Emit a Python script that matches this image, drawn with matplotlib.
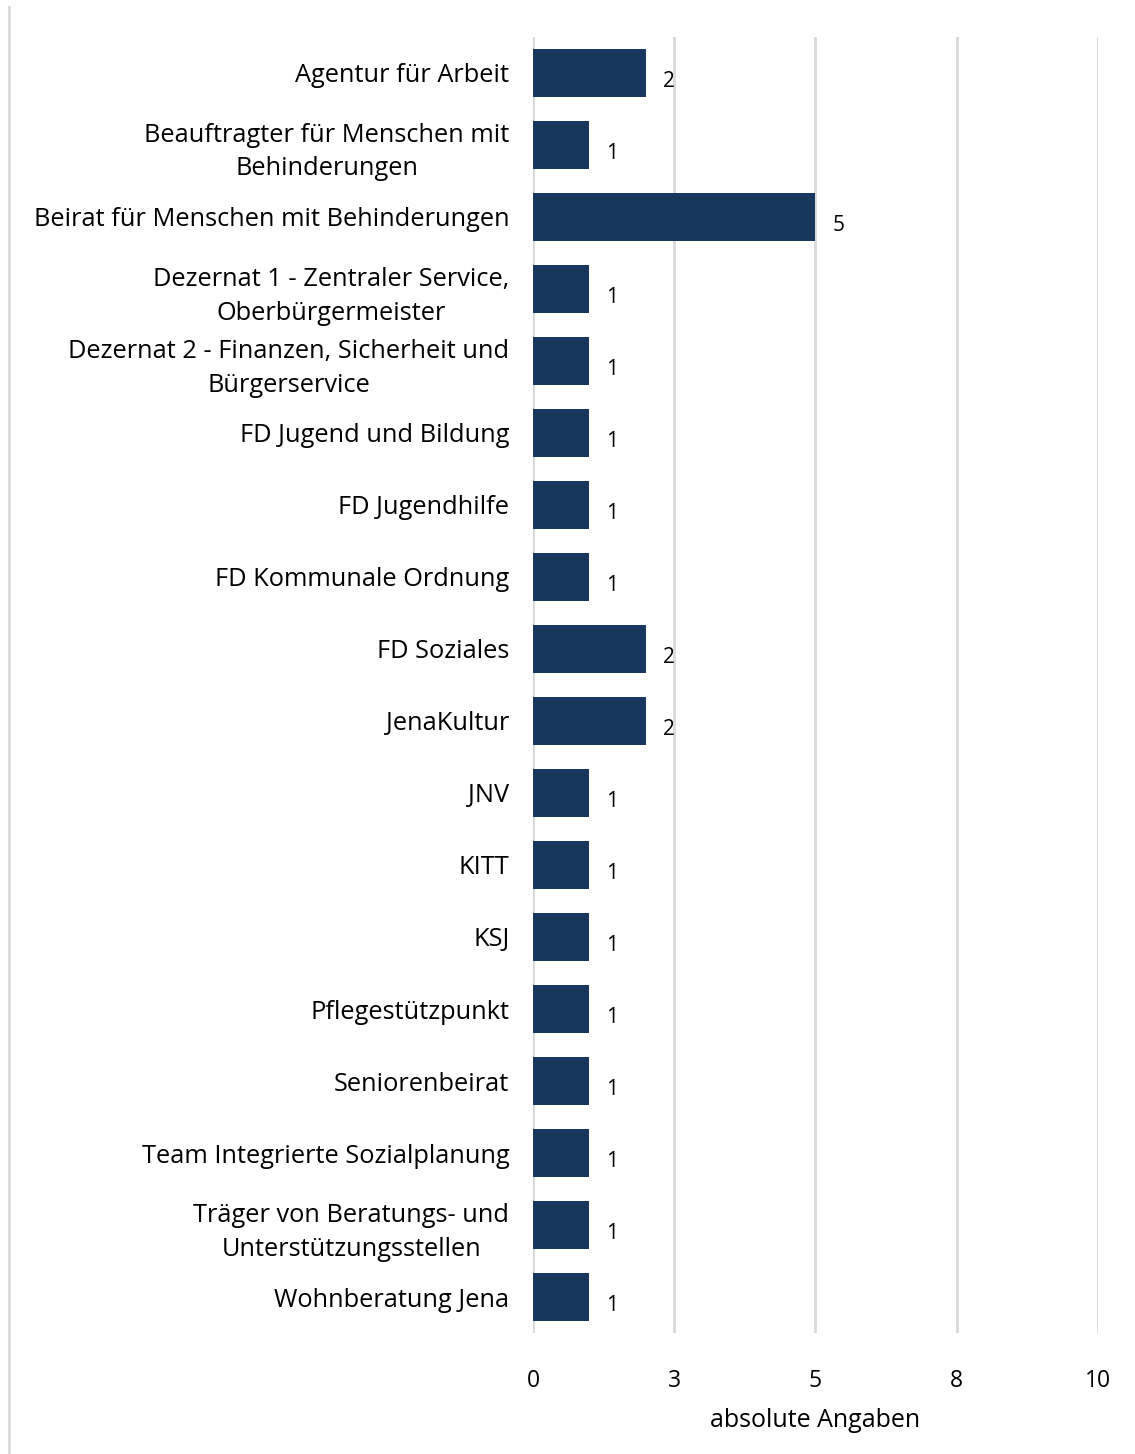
from matplotlib import pyplot as plt
from matplotlib.lines import Line2D
import numpy as np

plt.rcParams['font.family'] = ['Open Sans', 'DejaVu Sans']

kategorien = [
    'Agentur für Arbeit',
    'Beauftragter für Menschen mit\nBehinderungen',
    'Beirat für Menschen mit Behinderungen',
    'Dezernat 1 - Zentraler Service,\nOberbürgermeister',
    'Dezernat 2 - Finanzen, Sicherheit und\nBürgerservice',
    'FD Jugend und Bildung',
    'FD Jugendhilfe',
    'FD Kommunale Ordnung',
    'FD Soziales',
    'JenaKultur',
    'JNV',
    'KITT',
    'KSJ',
    'Pflegestützpunkt',
    'Seniorenbeirat',
    'Team Integrierte Sozialplanung',
    'Träger von Beratungs- und\nUnterstützungsstellen',
    'Wohnberatung Jena',
]
werte = [2, 1, 5, 1, 1, 1, 1, 1, 2, 2, 1, 1, 1, 1, 1, 1, 1, 1]
x_ticks = [0, 2.5, 5, 7.5, 10]
x_ticklabels = ['0', '3', '5', '8', '10']

farbe = '#17375e'
grau = '#d9d9d9'

fig = plt.figure(figsize=(11.35, 14.54), dpi=100)
ax = fig.add_axes([0.4696, 0.0832, 0.4978, 0.8914])

y = np.arange(len(kategorien))
ax.barh(y, werte, height=0.667, color=farbe, zorder=3)

for yi, w in zip(y, werte):
    ax.text(w + 0.3, yi + 0.12, str(w), va='center', ha='left', fontsize=15, color='black')

ax.set_xlim(0, 10)
ax.set_ylim(len(kategorien) - 0.5, -0.5)
ax.set_yticks(y)
ax.set_yticklabels(kategorien, fontsize=18.3, multialignment='center', linespacing=1.45)
ax.set_xticks(x_ticks)
ax.set_xticklabels(x_ticklabels, fontsize=16.5)
ax.tick_params(axis='both', length=0)
ax.tick_params(axis='y', pad=17)
ax.tick_params(axis='x', pad=26)
ax.xaxis.grid(True, color=grau, linewidth=2, zorder=0)
for s in ax.spines.values():
    s.set_visible(False)
ax.set_xlabel('absolute Angaben', fontsize=18, labelpad=11)

fig.add_artist(Line2D([0.008, 0.008], [0, 0.995], transform=fig.transFigure, color=grau, linewidth=2))

plt.savefig('out.png', dpi=100)
